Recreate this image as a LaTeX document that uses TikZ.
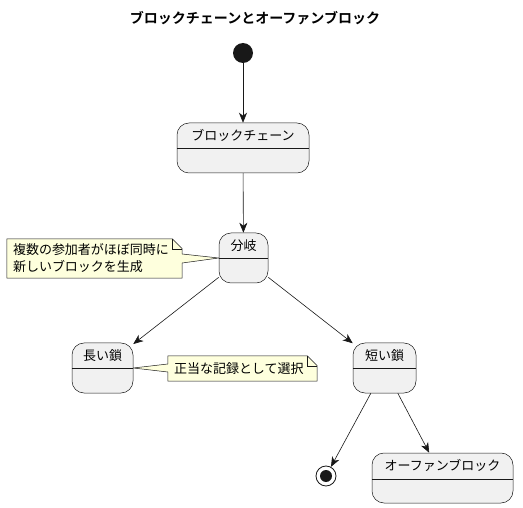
\documentclass[tikz,border=0pt]{standalone}
\usepackage{fontspec}
\setmainfont{Noto Sans CJK JP}[BoldFont={Noto Sans CJK JP Bold}]
\usetikzlibrary{arrows.meta}
\pgfdeclarelayer{bg}
\pgfsetlayers{bg,main}
\definecolor{mygray}{HTML}{F1F1F1}
\definecolor{myline}{HTML}{181818}
\definecolor{noteyellow}{HTML}{FEFFDD}
\tikzset{%
    state/.style={%
        draw=myline, fill=mygray, rounded corners=12pt, line width=0.5pt, minimum height=50pt, inner sep=0pt
    }
}
\tikzset{%
    lbl/.style={font=\fontsize{13}{17}\selectfont, inner sep=0pt}
}
\tikzset{%
    note/.style={lbl, align=left, inner xsep=6pt, inner ysep=0pt}
}
\tikzset{%
    noteline/.style={draw=myline, fill=noteyellow, line width=0.5pt, line join=miter}
}
\tikzset{%
    link/.style={->, >={Stealth[length=10pt,width=8pt,inset=3pt]}, line width=0.6pt, draw=myline}
}

\begin{document}
\begin{tikzpicture}[x=1pt,y=-1pt]
  \useasboundingbox (0,0) rectangle (523,508);

  \node[font=\bfseries\fontsize{14}{16}\selectfont, inner sep=0pt] (title) at (255,18) {ブロックチェーンとオーファンブロック};

  %
  \node[circle, fill=myline, minimum size=20pt, inner sep=0pt] (start) at (243,53) {};

  \node[state, minimum width=132pt] (BC) at (243,148) {};
  \node[lbl] at ([yshift=-13pt]BC.north) {ブロックチェーン};
  \draw[myline, line width=0.5pt] ([yshift=-26pt]BC.north west) -- ([yshift=-26pt]BC.north east);

  \node[state, minimum width=49pt] (Fork) at (243.5,258) {};
  \node[lbl] at ([yshift=-13pt]Fork.north) {分岐};
  \draw[myline, line width=0.5pt] ([yshift=-26pt]Fork.north west) -- ([yshift=-26pt]Fork.north east);

  \node[state, minimum width=61pt] (Long) at (102.5,368) {};
  \node[lbl] at ([yshift=-13pt]Long.north) {長い鎖};
  \draw[myline, line width=0.5pt] ([yshift=-26pt]Long.north west) -- ([yshift=-26pt]Long.north east);

  \node[state, minimum width=63pt] (Short) at (384.5,368) {};
  \node[lbl] at ([yshift=-13pt]Short.north) {短い鎖};
  \draw[myline, line width=0.5pt] ([yshift=-26pt]Short.north west) -- ([yshift=-26pt]Short.north east);

  \node[state, minimum width=141pt] (Orphan) at (442.5,478) {};
  \node[lbl] at ([yshift=-13pt]Orphan.north) {オーファンブロック};
  \draw[myline, line width=0.5pt] ([yshift=-26.5pt]Orphan.north west) -- ([yshift=-26.5pt]Orphan.north east);

  \node[circle, draw=myline, fill=white, line width=0.8pt, minimum size=20pt, inner sep=0pt] (end) at (326,476) {};
  \node[circle, fill=myline, minimum size=12pt, inner sep=0pt] at (end) {};

  %
  \node[note, text width=163pt, minimum height=39pt] (N1) at (94.5,258.5) {複数の参加者がほぼ同時に\\新しいブロックを生成};
  \node[note, text width=137pt, minimum height=25pt] (N2) at (242.5,368.5) {正当な記録として選択};

  \begin{pgfonlayer}{bg}
    \draw[noteline] (N1.north west) -- ([xshift=-10pt]N1.north east) -- ([yshift=-10pt]N1.north east)
      -- ([yshift=4.5pt]N1.east) -- (Fork.west) -- ([yshift=-4.5pt]N1.east) -- (N1.south east) -- (N1.south west) -- cycle;
    \draw[myline, line width=0.5pt] ([xshift=-10pt]N1.north east) |- ([yshift=-10pt]N1.north east);
    \draw[noteline] (N2.north west) -- ([xshift=-10pt]N2.north east) -- ([yshift=-10pt]N2.north east)
      -- (N2.south east) -- (N2.south west) -- ([yshift=-3.5pt]N2.west) -- (Long.east) -- ([yshift=4.5pt]N2.west) -- cycle;
    \draw[myline, line width=0.5pt] ([xshift=-10pt]N2.north east) |- ([yshift=-10pt]N2.north east);
  \end{pgfonlayer}

  %
  \draw[link] (start) -- (BC);
  \draw[link] (BC) -- (Fork);
  \draw[link] (Fork) -- (Long);
  \draw[link] (Fork) -- (Short);
  \draw[link] (Short) -- (end);
  \draw[link] (Short) -- (Orphan);
\end{tikzpicture}
\end{document}
